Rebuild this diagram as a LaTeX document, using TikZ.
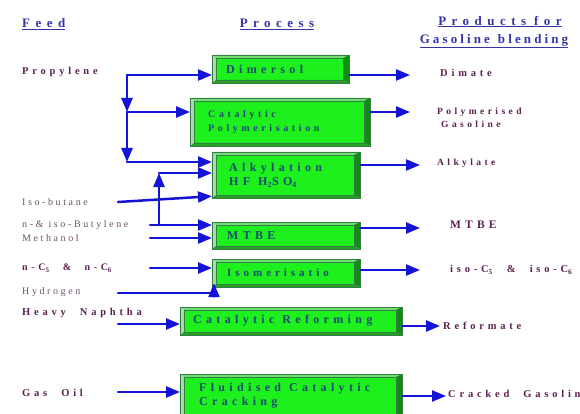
\documentclass[tikz,border=0pt]{standalone}
\usepackage{fontspec}
\setmainfont{Liberation Serif}
\newfontfamily\spaced[LetterSpace=36,WordSpace=2.2]{Liberation Serif}
\newfontfamily\litespaced[LetterSpace=26]{Liberation Serif}
\newfontfamily\headspaced[LetterSpace=42]{Liberation Serif}
\newfontfamily\headtight[LetterSpace=24]{Liberation Serif}
\usetikzlibrary{arrows.meta,positioning,calc}

\definecolor{hdblue}{HTML}{3434A8}
\definecolor{feedpurple}{HTML}{5C2050}
\definecolor{feedgrey}{HTML}{6E5068}
\definecolor{proctext}{HTML}{1A4A70}
\definecolor{flowblue}{HTML}{1414D8}
\definecolor{procface}{HTML}{1EF01E}
\definecolor{procedge}{HTML}{3A7A4A}
\definecolor{bevtop}{HTML}{70E070}
\definecolor{bevleft}{HTML}{A0E0A0}
\definecolor{bevright}{HTML}{0F8F0F}
\definecolor{bevbot}{HTML}{23A323}

\newcommand{\gap}{\hspace{8pt}}

\tikzset{
  bevel/.style={path picture={
      \coordinate (nw) at (path picture bounding box.north west);
      \coordinate (ne) at (path picture bounding box.north east);
      \coordinate (sw) at (path picture bounding box.south west);
      \coordinate (se) at (path picture bounding box.south east);
      \coordinate (nwi) at ([shift={(4pt,-3pt)}]nw);
      \coordinate (nei) at ([shift={(-6pt,-3pt)}]ne);
      \coordinate (swi) at ([shift={(4pt,3pt)}]sw);
      \coordinate (sei) at ([shift={(-6pt,3pt)}]se);
      \fill[bevtop] (nw) -- (ne) -- (nei) -- (nwi) -- cycle;
      \fill[bevleft] (nw) -- (nwi) -- (swi) -- (sw) -- cycle;
      \fill[bevright] (ne) -- (nei) -- (sei) -- (se) -- cycle;
      \fill[bevbot] (sw) -- (swi) -- (sei) -- (se) -- cycle;
      \draw[procedge, line width=0.4pt] (nwi) rectangle (sei);
    }}
}

\begin{document}
\begin{tikzpicture}[x=1pt, y=-1pt,
    proc/.style={bevel, draw=procedge, fill=procface, anchor=west, align=left,
                 inner ysep=0pt, text=proctext,
                 font=\spaced\bfseries\fontsize{12}{14}\selectfont},
    feed/.style={anchor=west, inner sep=0pt, text=feedpurple,
                 font=\spaced\bfseries\fontsize{10.5}{12}\selectfont},
    lite/.style={anchor=west, inner sep=0pt, text=feedgrey,
                 font=\litespaced\fontsize{10}{12}\selectfont},
    prod/.style={anchor=west, inner sep=0pt, text=feedpurple, align=left,
                 font=\spaced\bfseries\fontsize{10.5}{13}\selectfont},
    head/.style={inner sep=0pt, text=hdblue, align=center,
                 font=\headspaced\bfseries\fontsize{13}{18}\selectfont},
    flow/.style={draw=flowblue, line width=2.5pt, line cap=round,
                 -{Triangle[length=14pt,width=11pt]}}
  ]
  \useasboundingbox (0,0) rectangle (580,414);
  \clip (0,0) rectangle (580,414);

  % column heads
  \node[head, anchor=west] (hfeed) at (22,24) {\underline{Feed}};
  \node[head] (hproc) at (277,24) {\underline{Process}};
  \node[head] (hprod) at (494,32)
       {\hspace{12pt}\underline{Products\gap for}\\{\headtight\underline{Gasoline\gap blending}}};

  % process units
  \node[proc, inner xsep=14pt, text width=109pt, minimum height=28pt] (dim) at (212,69) {Dimersol};
  \node[proc, inner xsep=18pt, text width=144pt, minimum height=48pt,
        font=\spaced\bfseries\fontsize{10}{14}\selectfont] (cpol) at (190,122) {Catalytic\\Polymerisation};
  \node[proc, inner xsep=17pt, text width=114pt, minimum height=46pt] (alk) at (212,175)
        {Alkylation\\HF\gap H\textsubscript{2}SO\textsubscript{4}};
  \node[proc, inner xsep=15pt, text width=118pt, minimum height=27pt] (mtbe) at (212,235.5) {MTBE};
  \node[proc, inner xsep=15pt, text width=118pt, minimum height=28pt,
        font=\spaced\bfseries\fontsize{11}{14}\selectfont] (iso) at (212,273) {Isomerisatio};
  \node[proc, inner xsep=13pt, text width=196pt, minimum height=28pt] (cref) at (180,321)
        {Catalytic\gap Reforming};
  \node[proc, inner xsep=19pt, text width=184pt, minimum height=44pt] (fcc) at (180,396)
        {Fluidised\gap Catalytic\\Cracking};

  % feeds
  \node[feed] (prop) at (22,72) {Propylene};
  \node[lite] (ibut) at (22,202) {Iso-butane};
  \node[lite] (nbut) at (22,225) {n-\& iso-Butylene};
  \node[lite] (meth) at (22,238) {Methanol};
  \node[feed, font=\spaced\bfseries\fontsize{10}{12}\selectfont] (ncc) at (22,268)
        {n-C\textsubscript{5} \& n-C\textsubscript{6}};
  \node[lite] (hyd) at (22,292) {Hydrogen};
  \node[feed] (hnap) at (22,313) {Heavy Naphtha};
  \node[feed] (goil) at (22,393) {Gas Oil};

  % products
  \node[prod] (dimate) at (440,73) {Dimate};
  \node[prod, font=\spaced\bfseries\fontsize{9.5}{13}\selectfont] (polyg) at (437,118)
        {Polymerised\\\hspace{4pt}Gasoline};
  \node[prod, font=\spaced\bfseries\fontsize{9.5}{13}\selectfont] (alkyl) at (437,163) {Alkylate};
  \node[prod, font=\spaced\bfseries\fontsize{11.5}{13}\selectfont] (mtbep) at (450,225) {MTBE};
  \node[prod] (isop) at (450,270) {iso-C\textsubscript{5} \& iso-C\textsubscript{6}};
  \node[prod] (refp) at (443,326) {Reformate};
  \node[prod] (crack) at (448,394) {Cracked Gasolin};

  % junctions and free ends
  \coordinate (pj) at (127,75);
  \coordinate (pm) at (127,112);
  \coordinate (pb) at (127,162);
  \coordinate (bs) at (150,225);
  \coordinate (bj) at (159,225);
  \coordinate (bu) at (159,173);
  \coordinate (ibs) at (118,202);
  \coordinate (ms) at (150,238);
  \coordinate (ns) at (150,268);
  \coordinate (hs) at (118,293);
  \coordinate (hn) at (118,324);
  \coordinate (go) at (118,392);

  \draw[flow] (pj) -- (pj -| dim.west);
  \draw[flow] (pj) -- (pm);
  \draw[flow] (pm) -- (pm -| cpol.west);
  \draw[flow] (pm) -- (pb);
  \draw[flow] (pb) -- (pb -| alk.west);
  \draw[flow] (bj) -- (bu);
  \draw[flow] (bu) -- (bu -| alk.west);
  \draw[flow] (ibs) -- ([yshift=2pt]alk.south west);
  \draw[flow] (bs) -- (bs -| mtbe.west);
  \draw[flow] (ms) -- (ms -| mtbe.west);
  \draw[flow] (ns) -- (ns -| iso.west);
  \draw[flow] (hs) -| ([shift={(2pt,4pt)}]iso.south west);
  \draw[flow] (hn) -- (hn -| cref.west);
  \draw[flow] (go) -- (go -| fcc.west);

  % product streams
  \coordinate (o1) at (410,75);
  \coordinate (o2) at (410,112);
  \coordinate (o3) at (420,165);
  \coordinate (o4) at (420,228);
  \coordinate (o5) at (420,270);
  \coordinate (o6) at (440,326);
  \coordinate (o7) at (446,396);
  \draw[flow] (o1 -| dim.east) -- (o1);
  \draw[flow] (o2 -| cpol.east) -- (o2);
  \draw[flow] (o3 -| alk.east) -- (o3);
  \draw[flow] (o4 -| mtbe.east) -- (o4);
  \draw[flow] (o5 -| iso.east) -- (o5);
  \draw[flow] (o6 -| cref.east) -- (o6);
  \draw[flow] (o7 -| fcc.east) -- (o7);
\end{tikzpicture}
\end{document}
